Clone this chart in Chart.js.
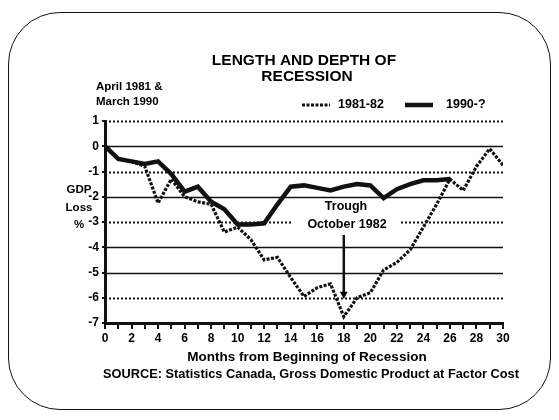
<!DOCTYPE html>
<html>
<head>
<meta charset="utf-8">
<script src="https://cdn.jsdelivr.net/npm/chart.js@4"></script>
<style>
  html, body { margin: 0; padding: 0; background: #fff; }
  #wrap { position: relative; width: 559px; height: 420px; }
  #frame { position: absolute; left: 8px; top: 12px; width: 543px; height: 398px;
           border: 1.5px solid #111; border-radius: 52px; box-sizing: border-box; pointer-events: none; }
  canvas { position: absolute; left: 0; top: 0; }
</style>
</head>
<body>
<div id="wrap">
  <canvas id="c" width="559" height="420"></canvas>
  <div id="frame"></div>
</div>
<script>
// ---- data ----
const months = [0,1,2,3,4,5,6,7,8,9,10,11,12,13,14,15,16,17,18,19,20,21,22,23,24,25,26,27,28,29,30];
const recession1981 = [0,-0.5,-0.6,-0.8,-2.25,-1.3,-2.0,-2.2,-2.3,-3.4,-3.2,-3.7,-4.5,-4.4,-5.2,-5.95,-5.6,-5.45,-6.75,-6.0,-5.8,-4.9,-4.6,-4.1,-3.2,-2.3,-1.3,-1.75,-0.8,-0.1,-0.75];
const recession1990 = [0,-0.5,-0.6,-0.7,-0.6,-1.1,-1.8,-1.6,-2.2,-2.5,-3.1,-3.1,-3.05,-2.3,-1.6,-1.55,-1.65,-1.75,-1.6,-1.5,-1.55,-2.05,-1.7,-1.5,-1.35,-1.35,-1.3];
const yTicks = [1,0,-1,-2,-3,-4,-5,-6,-7];
const dottedGrid = [1,-1,-3,-6];
const xLabelStep = 2;
const seriesNames = ['1981-82', '1990-?'];
const troughMonth = 18;
const troughValue = -6;

const FONT = '"Liberation Sans", Arial, sans-serif';

const toPts = (arr) => arr.map((v, i) => ({x: months[i], y: v}));

const decor = {
  id: 'decor',
  beforeDatasetsDraw(chart) {
    const {ctx, chartArea, scales} = chart;
    const y = scales.y;
    ctx.save();
    yTicks.forEach(v => {
      if (v === -7) return;
      const py = Math.round(y.getPixelForValue(v)) + 0.5;
      ctx.beginPath();
      ctx.strokeStyle = '#111';
      if (dottedGrid.includes(v)) { ctx.setLineDash([2, 2]); ctx.lineWidth = 2; }
      else { ctx.setLineDash([]); ctx.lineWidth = 1.5; }
      ctx.moveTo(chartArea.left, py);
      ctx.lineTo(chartArea.right, py);
      ctx.stroke();
    });
    ctx.restore();
  },
  afterDatasetsDraw(chart) {
    const {ctx, scales} = chart;
    const x = scales.x, y = scales.y;
    ctx.save();
    ctx.fillStyle = '#000';
    ctx.textBaseline = 'middle';
    // title
    ctx.textAlign = 'center';
    ctx.font = 'bold 15.5px ' + FONT;
    ctx.fillText('LENGTH AND DEPTH OF', 304, 61);
    ctx.fillText('RECESSION', 307, 77);
    // subtitle at left
    ctx.textAlign = 'left';
    ctx.font = 'bold 11.5px ' + FONT;
    ctx.fillText('April 1981 &', 96, 87);
    ctx.fillText('March 1990', 96, 102);
    // y title
    ctx.textAlign = 'center';
    ctx.font = 'bold 11.5px ' + FONT;
    ctx.fillText('GDP', 79, 190);
    ctx.fillText('Loss', 79, 208);
    ctx.fillText('%', 79, 225);
    // legend
    const ly = 105;
    ctx.strokeStyle = '#111';
    ctx.lineWidth = 3;
    ctx.setLineDash([3, 1.5]);
    ctx.beginPath(); ctx.moveTo(302, ly); ctx.lineTo(330, ly); ctx.stroke();
    ctx.setLineDash([]);
    ctx.lineWidth = 4.5;
    ctx.beginPath(); ctx.moveTo(405, ly); ctx.lineTo(433, ly); ctx.stroke();
    ctx.textAlign = 'left';
    ctx.font = 'bold 12.5px ' + FONT;
    ctx.fillText(seriesNames[0], 338, ly);
    ctx.fillText(seriesNames[1], 446, ly);
    // annotation
    ctx.textAlign = 'center';
    ctx.font = 'bold 12.5px ' + FONT;
    ctx.fillStyle = '#fff';
    ctx.fillRect(318, 199, 58, 15);
    ctx.fillRect(293, 217, 108, 15);
    ctx.fillStyle = '#000';
    ctx.fillText('Trough', 346, 207);
    ctx.fillText('October 1982', 347, 225);
    const ax = x.getPixelForValue(troughMonth);
    const ay = y.getPixelForValue(troughValue);
    ctx.lineWidth = 2.5;
    ctx.beginPath(); ctx.moveTo(ax, 235); ctx.lineTo(ax, ay - 3); ctx.stroke();
    ctx.beginPath(); ctx.moveTo(ax - 4, ay - 6); ctx.lineTo(ax + 4, ay - 6); ctx.lineTo(ax, ay + 1); ctx.closePath(); ctx.fill();
    // x title and source
    ctx.font = 'bold 13.5px ' + FONT;
    ctx.fillText('Months from Beginning of Recession', 307, 357);
    ctx.font = 'bold 12.8px ' + FONT;
    ctx.fillText('SOURCE: Statistics Canada, Gross Domestic Product at Factor Cost', 311, 374);
    ctx.restore();
  }
};

new Chart(document.getElementById('c'), {
  type: 'line',
  data: {
    datasets: [
      { label: seriesNames[0], data: toPts(recession1981), borderColor: '#111', borderWidth: 3.2,
        borderDash: [3, 1.5], pointRadius: 0, tension: 0, fill: false },
      { label: seriesNames[1], data: toPts(recession1990), borderColor: '#111', borderWidth: 4.5,
        pointRadius: 0, tension: 0, fill: false }
    ]
  },
  options: {
    responsive: false,
    animation: false,
    layout: { padding: { left: 83, right: 56, top: 121, bottom: 78 } },
    plugins: { legend: { display: false }, tooltip: { enabled: false }, title: { display: false } },
    scales: {
      x: {
        type: 'linear', min: 0, max: 30,
        afterFit: s => { s.height = 19; },
        afterBuildTicks: s => { s.ticks = months.map(v => ({value: v})); },
        ticks: { autoSkip: false, maxRotation: 0, padding: 2, color: '#000',
                 font: { family: FONT, weight: 'bold', size: 12 },
                 callback: v => (v % xLabelStep === 0 ? String(v) : '') },
        grid: { drawOnChartArea: false, drawTicks: true, tickLength: 6, color: '#111', lineWidth: 2 },
        border: { display: true, color: '#111', width: 3 }
      },
      y: {
        min: -7, max: 1,
        afterFit: s => { s.width = 22; },
        afterBuildTicks: s => { s.ticks = yTicks.map(v => ({value: v})); },
        ticks: { padding: 3, color: '#000', font: { family: FONT, weight: 'bold', size: 12 } },
        grid: { drawOnChartArea: false, drawTicks: true, tickLength: 3, color: '#111', lineWidth: 2 },
        border: { display: true, color: '#111', width: 3 }
      }
    }
  },
  plugins: [decor]
});
</script>
</body>
</html>
